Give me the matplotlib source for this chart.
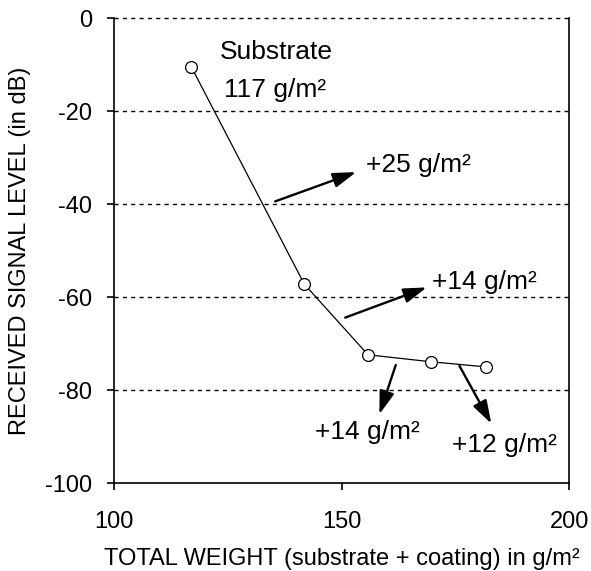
import matplotlib.pyplot as plt

plt.rcParams['font.family'] = ['Liberation Sans', 'DejaVu Sans']
plt.rcParams['axes.unicode_minus'] = False

# measured points: total weight (g/m²) vs received signal (dB)
weight = [117, 141.8, 155.8, 169.6, 181.7]
signal = [-10.5, -57.2, -72.4, -73.9, -75.0]

# coating increments shown as arrow annotations
labels = ['+25 g/m²', '+14 g/m²', '+14 g/m²', '+12 g/m²']
arrow_from = [(135.4, -39.4), (150.8, -64.4), (161.9, -74.6), (175.9, -74.8)]
arrow_to = [(153.2, -33.1), (168.7, -57.9), (158.3, -85.2), (182.9, -87.2)]
label_pos = [(155.3, -31.6), (169.8, -56.7), (144.2, -89.0), (174.2, -91.8)]

fig = plt.figure(figsize=(5.91, 5.71), dpi=100)
ax = fig.add_axes([0.193, 0.154, 0.770, 0.814])

for yv in [-80, -60, -40, -20, 0]:
    ax.axhline(yv, color='black', lw=1, ls=(0, (3, 3)), clip_on=False, zorder=1)

ax.plot(weight, signal, color='black', lw=0.9, marker='o', ms=8.5,
        mfc='white', mec='black', mew=0.9, zorder=3)

for lbl, p0, p1, pt in zip(labels, arrow_from, arrow_to, label_pos):
    ax.annotate('', xy=p1, xytext=p0,
                arrowprops=dict(arrowstyle='-|>,head_length=1.4,head_width=0.45',
                                color='black', lw=1.7, shrinkA=0, shrinkB=0))
    ax.text(pt[0], pt[1], lbl, fontsize=19, va='center', ha='left')

ax.text(123.3, -7.2, 'Substrate', fontsize=19, va='center', ha='left')
ax.text(124.2, -15.5, '117 g/m²', fontsize=19, va='center', ha='left')

ax.set_xlim(100, 200)
ax.set_ylim(-100, 0)
ax.set_xticks([100, 150, 200])
ax.set_yticks([-100, -80, -60, -40, -20, 0])
ax.tick_params(direction='out', length=5, width=1.2, labelsize=17, color='black')
ax.tick_params(axis='x', pad=15)
ax.tick_params(axis='y', pad=11)

ax.spines['top'].set_visible(False)
for s in ['left', 'bottom', 'right']:
    ax.spines[s].set_linewidth(1.2)

ax.set_xlabel('TOTAL WEIGHT (substrate + coating) in g/m²', fontsize=17, labelpad=11)
ax.set_ylabel('RECEIVED SIGNAL LEVEL (in dB)', fontsize=17, labelpad=10)

fig.savefig('out.png', dpi=100)
